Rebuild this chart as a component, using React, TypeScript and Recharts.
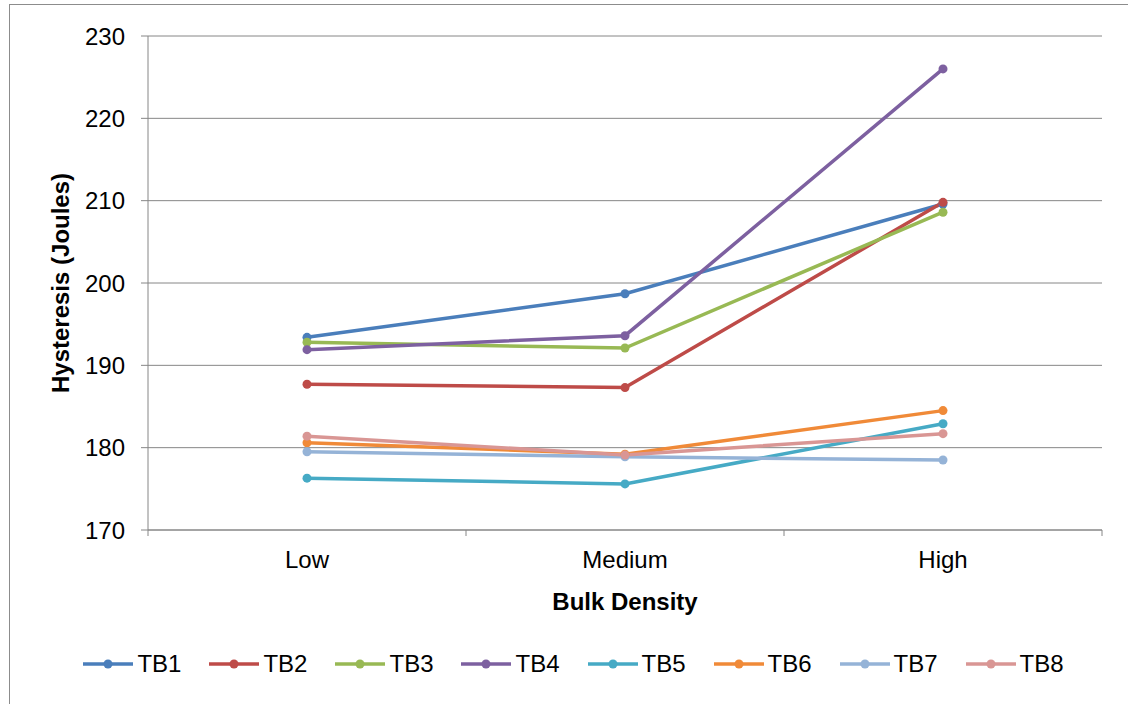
import { LineChart, Line, XAxis, YAxis, CartesianGrid, Legend } from 'recharts';

const categories = ['Low', 'Medium', 'High'];
const yTicks = [170, 180, 190, 200, 210, 220, 230];

const tb1 = [193.4, 198.7, 209.6];
const tb2 = [187.7, 187.3, 209.8];
const tb3 = [192.8, 192.1, 208.6];
const tb4 = [191.9, 193.6, 226.0];
const tb5 = [176.3, 175.6, 182.9];
const tb6 = [180.6, 179.2, 184.5];
const tb7 = [179.5, 178.9, 178.5];
const tb8 = [181.4, 179.1, 181.7];

const seriesNames = ['TB1', 'TB2', 'TB3', 'TB4', 'TB5', 'TB6', 'TB7', 'TB8'];
const seriesValues = [tb1, tb2, tb3, tb4, tb5, tb6, tb7, tb8];
const COLORS = ['#4A7EBB', '#BE4B48', '#98B954', '#7D60A0', '#46AAC5', '#F08A38', '#95B3D7', '#D99694'];

// numeric x so that tick marks can sit between the categories like Excel does
const data = categories.map((name, i) => {
  const row: any = { pos: i + 0.5, name };
  seriesNames.forEach((s, k) => { row[s] = seriesValues[k][i]; });
  return row;
});

const FONT = 'Arial, "Liberation Sans", sans-serif';
const AXIS = '#868686';
const FS = 24;

const XTick = (props: any) => {
  const { x, y, payload } = props;
  const v = payload.value;
  if (Number.isInteger(v)) {
    return <line x1={x} x2={x} y1={y - 6} y2={y} stroke={AXIS} strokeWidth={1} />;
  }
  return (
    <text x={x} y={y + 32} textAnchor="middle" fontSize={FS} fill="#000" fontFamily={FONT}>
      {categories[Math.floor(v)]}
    </text>
  );
};

const CustomLegend = () => (
  <div style={{ display: 'flex', justifyContent: 'center', gap: 27, fontFamily: FONT, fontSize: FS, color: '#000', paddingLeft: 18 }}>
    {seriesNames.map((s, i) => (
      <div key={s} style={{ display: 'flex', alignItems: 'center', gap: 3 }}>
        <svg width={52} height={12}>
          <line x1={1} x2={51} y1={6} y2={6} stroke={COLORS[i]} strokeWidth={3.5} />
          <circle cx={26} cy={6} r={4.5} fill={COLORS[i]} />
        </svg>
        <span>{s}</span>
      </div>
    ))}
  </div>
);

export default function App() {
  return (
    <div style={{ position: 'absolute', left: 0, top: 0, width: 1128, height: 704, background: '#fff', overflow: 'hidden' }}>
      <div style={{ position: 'absolute', left: 9, top: 4, width: 1130, height: 710, border: '1px solid #8c8c8c' }} />
      <div style={{ position: 'absolute', left: 0, top: 0 }}>
        <LineChart width={1128} height={704} data={data} margin={{ top: 36, right: 26, left: 0, bottom: 92 }}>
          <CartesianGrid vertical={false} stroke={AXIS} strokeWidth={1} />
          <XAxis
            dataKey="pos"
            type="number"
            domain={[0, 3]}
            ticks={[0, 0.5, 1, 1.5, 2, 2.5, 3]}
            interval={0}
            tick={<XTick />}
            tickLine={false}
            tickSize={6}
            tickMargin={0}
            axisLine={{ stroke: AXIS }}
            height={82}
            label={{ value: 'Bulk Density', position: 'insideBottom', offset: 2, fontSize: FS, fontWeight: 'bold', fill: '#000', fontFamily: FONT }}
          />
          <YAxis
            domain={[170, 230]}
            ticks={yTicks}
            interval={0}
            width={148}
            tickSize={7}
            tickMargin={16}
            axisLine={{ stroke: AXIS }}
            tickLine={{ stroke: AXIS }}
            tick={{ fontSize: FS, fill: '#000', fontFamily: FONT }}
            label={({ viewBox }: any) => (
              <text
                x={viewBox.x + 60}
                y={viewBox.y + viewBox.height / 2}
                transform={`rotate(-90, ${viewBox.x + 60}, ${viewBox.y + viewBox.height / 2})`}
                textAnchor="middle"
                dominantBaseline="central"
                fontSize={FS}
                fontWeight="bold"
                fontFamily={FONT}
                fill="#000"
              >
                Hysteresis (Joules)
              </text>
            )}
          />
          <Legend verticalAlign="middle" align="center" layout="horizontal" content={<CustomLegend />} wrapperStyle={{ top: 650, left: 0, width: 1128 }} />
          {seriesNames.map((s, i) => (
            <Line
              key={s}
              dataKey={s}
              stroke={COLORS[i]}
              strokeWidth={3.5}
              dot={{ r: 4.5, fill: COLORS[i], stroke: COLORS[i], strokeWidth: 0 }}
              isAnimationActive={false}
            />
          ))}
        </LineChart>
      </div>
    </div>
  );
}
